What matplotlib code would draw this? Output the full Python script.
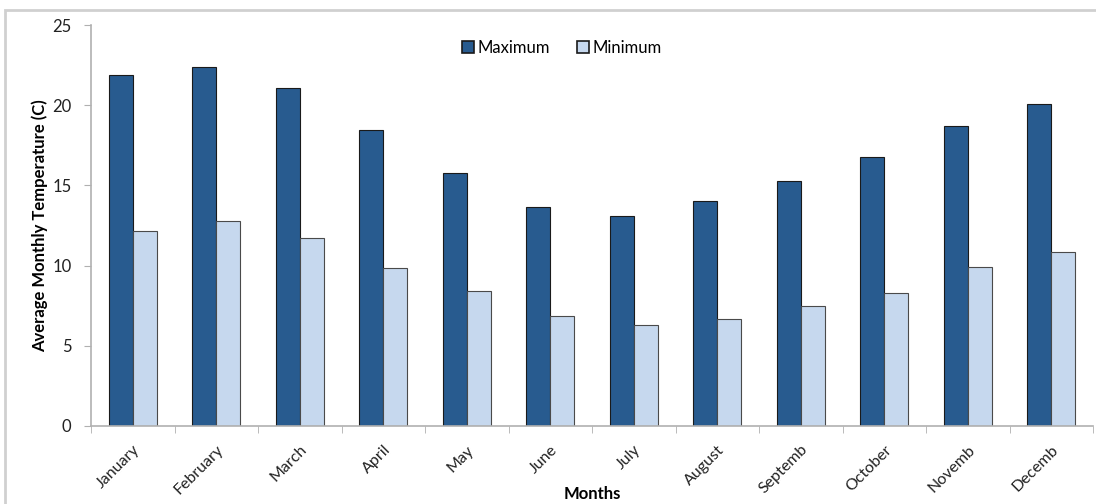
import numpy as np
import matplotlib.pyplot as plt
from matplotlib.patches import Rectangle

months = ["January", "February", "March", "April", "May", "June",
          "July", "August", "Septemb", "October", "Novemb", "Decemb"]
t_max = [21.9, 22.4, 21.1, 18.45, 15.8, 13.65, 13.1, 14.0, 15.3, 16.75, 18.7, 20.1]
t_min = [12.15, 12.8, 11.7, 9.85, 8.4, 6.85, 6.3, 6.65, 7.5, 8.3, 9.9, 10.85]

plt.rcParams['font.family'] = ['Lato', 'DejaVu Sans']

fig = plt.figure(figsize=(10.96, 5.04), dpi=100)
# light grey frame around the chart area
fig.patches.append(Rectangle((5 / 1096, -0.1), 1.2, (504 - 10) / 504 + 0.1,
                             transform=fig.transFigure, fill=False,
                             edgecolor='#d0d0d0', linewidth=2))
ax = fig.add_axes([91 / 1096, 78 / 504, 1002 / 1096, 401 / 504])

x = np.arange(len(months))
w = 0.29
ax.bar(x - w / 2, t_max, w, color='#285b8f', edgecolor='#1a1a1a', linewidth=0.8,
       label='Maximum')
ax.bar(x + w / 2, t_min, w, color='#c6d8ee', edgecolor='#4a4a4a', linewidth=0.8,
       label='Minimum')

ax.set_xlim(-0.5, len(months) - 0.5)
ax.set_ylim(0, 25)
ax.set_yticks([0, 5, 10, 15, 20, 25])
ax.set_xticks(x)
ax.set_xticklabels(months, rotation=45, ha='right', rotation_mode='anchor',
                   fontsize=11.5, color='#222222')
ax.set_xticks(np.arange(-0.5, len(months) + 0.5, 1), minor=True)
ax.tick_params(axis='x', which='major', length=0, pad=12)
ax.tick_params(axis='x', which='minor', length=5, color='#b0b0b0')
ax.tick_params(axis='y', length=5, color='#b0b0b0', labelsize=12,
               labelcolor='#222222', pad=9)

for s in ['top', 'right']:
    ax.spines[s].set_visible(False)
for s in ['left', 'bottom']:
    ax.spines[s].set_color('#b0b0b0')
    ax.spines[s].set_linewidth(1.2)

ax.set_ylabel('Average Monthly Temperature (C)', fontsize=12, fontweight='bold',
              labelpad=3)
ax.set_xlabel('Months', fontsize=12, fontweight='bold', labelpad=-8)

leg = ax.legend(loc='upper center', bbox_to_anchor=(0.47, 1.0), ncol=2,
                frameon=False, fontsize=12, handlelength=0.75, handleheight=0.75,
                handletextpad=0.2, columnspacing=1.6)
for h in leg.legend_handles:
    h.set_edgecolor('#1a1a1a')
    h.set_linewidth(1.2)

fig.savefig('out.png', dpi=100)
